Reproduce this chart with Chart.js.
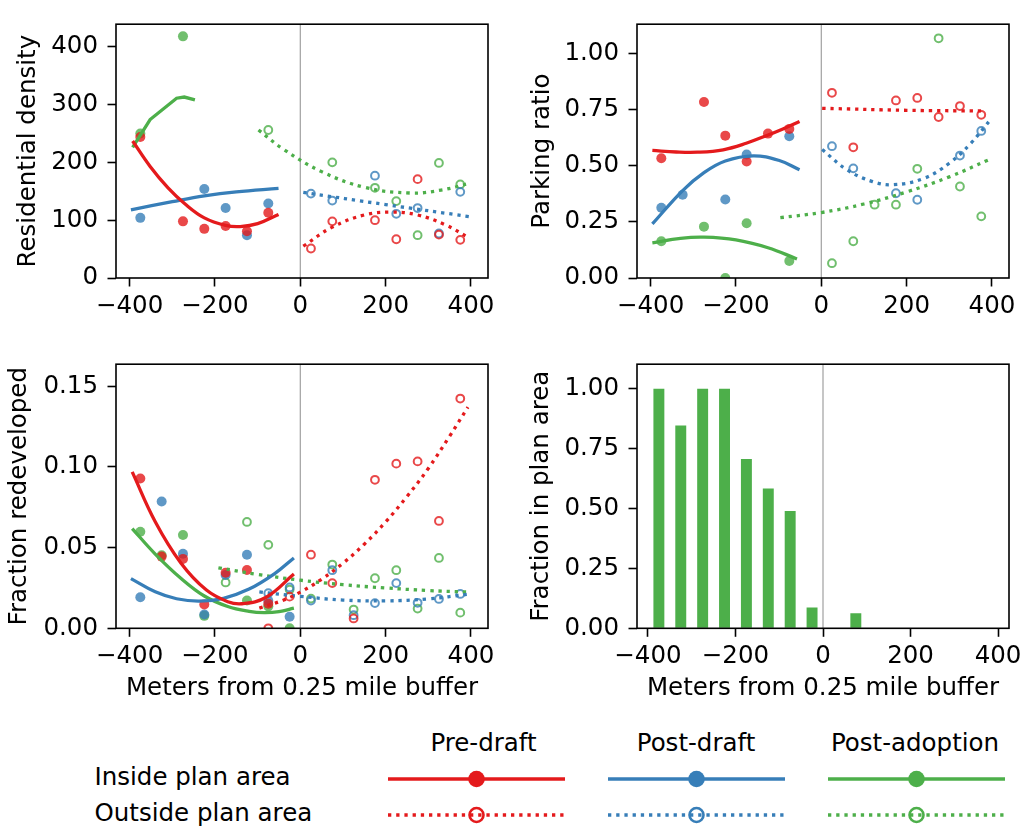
<!DOCTYPE html>
<html>
<head>
<meta charset="utf-8">
<script src="https://cdn.jsdelivr.net/npm/chart.js@4.4.1/dist/chart.umd.min.js"></script>
<style>
html, body { margin: 0; padding: 0; background: #fff; overflow: hidden; }
#fig { position: relative; width: 1024px; height: 832px; overflow: hidden; background: #fff;
       font-family: 'DejaVu Sans', sans-serif; color: #000; }
canvas { position: absolute; }
.lg { position: absolute; font-size: 24.5px; line-height: 1; white-space: nowrap; transform: translateY(-50%); }
.hd { transform: translate(-50%, -50%); }
</style>
</head>
<body>
<div id="fig">
  <canvas id="c1" width="510" height="330" style="left:0;top:0"></canvas>
  <canvas id="c2" width="530" height="330" style="left:505px;top:0"></canvas>
  <canvas id="c3" width="510" height="380" style="left:0;top:340px"></canvas>
  <canvas id="c4" width="530" height="380" style="left:505px;top:340px"></canvas>

  <div class="lg hd" style="left:483.5px;top:743px">Pre-draft</div>
  <div class="lg hd" style="left:696px;top:743px">Post-draft</div>
  <div class="lg hd" style="left:915px;top:743px">Post-adoption</div>
  <div class="lg" style="left:94.5px;top:777px">Inside plan area</div>
  <div class="lg" style="left:94.5px;top:813px">Outside plan area</div>
  <svg id="legend" width="1024" height="112" style="position:absolute;left:0;top:720px"></svg>
</div>

<script>
"use strict";

// bins (metres from the 0.25 mile buffer)
const binsIn = [-375, -325, -275, -225, -175, -125, -75, -25];
const binsOut = [-175, -125, -75, -25, 25, 75, 125, 175, 225, 275, 325, 375];
const xTicks = [-400, -200, 0, 200, 400];

// --- Residential density ---
const densTicks = [0, 100, 200, 300, 400];
const densPreIn   = [244, null, 98, 85, 90, 81, 113, null];
const densPostIn  = [104, null, null, 154, 121, 74, 129, null];
const densAdoptIn = [250, null, 418, null, null, null, null, null];
const densPreOut   = [null, null, null, null, 51, 98, null, 100, 67, 171, 75, 66];
const densPostOut  = [null, null, null, null, 146, 134, null, 177, 111, 121, 77, 149];
const densAdoptOut = [null, null, 256, null, null, 200, null, 156, 133, 74, 199, 162];
const densPreFitX = [-393, -352, -310, -270, -225, -175, -141, -100, -51];
const densPreFitY = [237, 193, 156, 128, 104, 91, 89, 94, 110];
const densPostFitX = [-397, -300, -225, -150, -51];
const densPostFitY = [118, 132, 142, 149, 155];
const densAdoptFitX = [-393, -352, -290, -272, -247];
const densAdoptFitY = [226, 274, 311, 313, 308];
const densPreOutFitX = [7, 75, 150, 212, 275, 340, 394];
const densPreOutFitY = [55, 88, 109, 114, 109, 92, 70];
const densPostOutFitX = [7, 200, 398];
const densPostOutFitY = [148, 127, 106];
const densAdoptOutFitX = [-98, -40, 50, 150, 257, 330, 398];
const densAdoptOutFitY = [256, 223, 184, 157, 147, 152, 164];

// --- Parking ratio ---
const parkTicks = [0, 0.25, 0.5, 0.75, 1.0];
const parkPreIn   = [0.534, null, 0.785, 0.635, 0.520, 0.644, 0.665, null];
const parkPostIn  = [0.313, 0.371, null, 0.350, 0.551, null, 0.632, null];
const parkAdoptIn = [0.164, null, 0.229, 0.0, 0.244, null, 0.076, null];
const parkPreOut   = [null, null, null, null, 0.826, 0.583, null, 0.792, 0.803, 0.718, 0.767, 0.728];
const parkPostOut  = [null, null, null, null, 0.588, 0.489, null, 0.378, 0.349, null, 0.546, 0.656];
const parkAdoptOut = [null, null, null, null, 0.066, 0.164, 0.327, 0.327, 0.487, 1.069, 0.408, 0.275];
const parkPreFitX = [-396, -340, -290, -230, -176, -126, -90, -51];
const parkPreFitY = [0.569, 0.562, 0.561, 0.572, 0.601, 0.637, 0.665, 0.698];
const parkPostFitX = [-396, -325, -275, -225, -160, -100, -51];
const parkPostFitY = [0.241, 0.390, 0.470, 0.522, 0.545, 0.525, 0.483];
const parkAdoptFitX = [-396, -330, -275, -200, -125, -57];
const parkAdoptFitY = [0.157, 0.177, 0.182, 0.170, 0.135, 0.085];
const parkPreOutFitX = [2, 200, 385];
const parkPreOutFitY = [0.757, 0.748, 0.745];
const parkPostOutFitX = [2, 60, 120, 169, 240, 300, 350, 400];
const parkPostOutFitY = [0.573, 0.483, 0.430, 0.416, 0.444, 0.512, 0.600, 0.714];
const parkAdoptOutFitX = [-96, 0, 100, 200, 300, 392];
const parkAdoptOutFitY = [0.269, 0.292, 0.330, 0.384, 0.451, 0.527];

// --- Fraction redeveloped ---
const redevTicks = [0, 0.05, 0.10, 0.15];
const redevPreIn   = [0.0928, 0.0444, 0.0430, 0.0148, 0.0344, 0.0361, 0.0152, null];
const redevPostIn  = [0.0192, 0.0785, 0.0462, 0.0085, 0.0330, 0.0456, 0.0171, 0.0071];
const redevAdoptIn = [0.0598, 0.0452, 0.0578, 0.0077, null, 0.0172, 0.0136, 0.0];
const redevPreOut   = [null, null, 0.0, 0.0196, 0.0456, 0.0280, 0.0061, 0.0920, 0.1020, 0.1034, 0.0665, 0.1423];
const redevPostOut  = [null, null, 0.0217, 0.0253, 0.0172, 0.0360, 0.0081, 0.0156, 0.0280, 0.0158, 0.0182, 0.0213];
const redevAdoptOut = [0.0284, 0.0659, 0.0517, 0.0240, 0.0184, 0.0395, 0.0116, 0.0310, 0.0360, 0.0122, 0.0436, 0.0097];
const redevPreFitX = [-394, -340, -280, -220, -170, -137, -80, -15];
const redevPreFitY = [0.0969, 0.066, 0.0405, 0.0237, 0.0165, 0.0152, 0.0192, 0.0336];
const redevPostFitX = [-397, -340, -290, -237, -180, -120, -60, -15];
const redevPostFitY = [0.0308, 0.0226, 0.0183, 0.0168, 0.0186, 0.0243, 0.0339, 0.0436];
const redevAdoptFitX = [-394, -340, -280, -225, -170, -120, -85, -50, -15];
const redevAdoptFitY = [0.0618, 0.046, 0.031, 0.020, 0.0135, 0.0105, 0.0097, 0.0103, 0.0125];
const redevPreOutFitX = [-96, -40, 0, 50, 100, 150, 200, 250, 300, 350, 393];
const redevPreOutFitY = [0.0125, 0.0174, 0.0224, 0.0304, 0.0403, 0.0521, 0.0659, 0.0816, 0.099, 0.119, 0.137];
const redevPostOutFitX = [-96, 0, 100, 200, 300, 393];
const redevPostOutFitY = [0.0225, 0.0198, 0.0175, 0.0170, 0.0182, 0.0211];
const redevAdoptOutFitX = [-192, -100, 0, 100, 200, 300, 393];
const redevAdoptOutFitY = [0.0375, 0.0334, 0.0298, 0.0270, 0.0250, 0.0234, 0.0225];

// --- Fraction in plan area ---
const planTicks = [0, 0.25, 0.5, 0.75, 1.0];
const planBins = [-375, -325, -275, -225, -175, -125, -75, -25, 25, 75, 125, 175, 225, 275, 325, 375];
const planFrac = [1.0, 0.846, 1.0, 1.0, 0.706, 0.583, 0.489, 0.087, 0, 0.063, 0, 0, 0, 0, 0, 0];

const RED = '#e41a1c', BLUE = '#377eb8', GREEN = '#4daf4a';
const FILL = {};
FILL[RED] = 'rgba(228,26,28,0.8)';
FILL[BLUE] = 'rgba(55,126,184,0.8)';
FILL[GREEN] = 'rgba(77,175,74,0.8)';

Chart.defaults.font.family = "'DejaVu Sans', sans-serif";
Chart.defaults.font.size = 24.5;
Chart.defaults.color = '#000';

function pts(xs, ys) {
    return xs.map((x, i) => ({ x: x, y: ys[i] })).filter(p => p.y !== null);
}

function dots(ys, color) {
    return { data: pts(binsIn, ys), showLine: false, clip: 0,
        pointRadius: 5, pointBorderWidth: 0, pointBorderColor: 'rgba(0,0,0,0)',
        pointBackgroundColor: FILL[color] };
}

function rings(ys, color) {
    return { data: pts(binsOut, ys), showLine: false, clip: 0,
        pointRadius: 3.9, pointBorderWidth: 2, pointBorderColor: FILL[color],
        pointBackgroundColor: 'rgba(0,0,0,0)' };
}

function fit(xs, ys, color, dotted, tension) {
    return { data: pts(xs, ys), showLine: true, borderColor: color, borderWidth: 3.3,
        borderDash: dotted ? [3.3, 4.9] : [], borderCapStyle: 'butt',
        tension: tension === undefined ? 0.4 : tension, pointRadius: 0 };
}

const fmtX = v => v < 0 ? '\u2212' + Math.abs(v) : String(v);

// black frame round the plot area and grey line at x = 0
const framePlugin = {
    id: 'frame',
    beforeDatasetsDraw(chart) {
        const { ctx, chartArea: a } = chart;
        const x0 = chart.scales.x.getPixelForValue(0);
        ctx.save();
        ctx.strokeStyle = '#a0a0a0';
        ctx.lineWidth = 1.2;
        ctx.beginPath();
        ctx.moveTo(x0, a.top);
        ctx.lineTo(x0, a.bottom);
        ctx.stroke();
        ctx.restore();
    },
    afterDatasetsDraw(chart) {
        const { ctx, chartArea: a } = chart;
        ctx.save();
        ctx.strokeStyle = '#000';
        ctx.lineWidth = 1.6;
        ctx.strokeRect(a.left, a.top, a.right - a.left, a.bottom - a.top);
        ctx.restore();
    }
};

function options(p) {
    return {
        responsive: false, animation: false, events: [],
        layout: { padding: { left: 0, top: p.top, right: p.right, bottom: 0 } },
        plugins: { legend: { display: false }, tooltip: { enabled: false } },
        scales: {
            x: {
                type: 'linear', min: p.xMin, max: p.xMax, offset: false,
                afterBuildTicks: s => { s.ticks = xTicks.map(v => ({ value: v })); },
                afterFit: s => { s.height = p.xH; },
                grid: { drawOnChartArea: false, drawTicks: true, tickLength: 8.5, tickWidth: 1.6,
                        tickColor: '#000', offset: false },
                border: { display: false },
                ticks: { padding: 5.3, maxRotation: 0, autoSkip: false, callback: fmtX },
                title: { display: !!p.xTitle, text: 'Meters from 0.25 mile buffer',
                         padding: { top: 0, bottom: 16.3 } }
            },
            y: {
                type: 'linear', min: 0, max: p.yMax,
                afterBuildTicks: s => { s.ticks = p.yTicks.map(v => ({ value: v })); },
                afterFit: s => { s.width = p.yW; },
                grid: { drawOnChartArea: false, drawTicks: true, tickLength: 8.5, tickWidth: 1.6,
                        tickColor: '#000' },
                border: { display: false },
                ticks: { padding: 9.5, autoSkip: false, callback: p.fmtY },
                title: { display: true, text: p.yTitle, padding: { top: p.yTitlePad, bottom: 0 } }
            }
        }
    };
}

// Residential density
new Chart(document.getElementById('c1'), {
    type: 'scatter',
    data: { datasets: [
        fit(densPreFitX, densPreFitY, RED, false),
        fit(densPostFitX, densPostFitY, BLUE, false),
        fit(densAdoptFitX, densAdoptFitY, GREEN, false, 0),
        fit(densPreOutFitX, densPreOutFitY, RED, true),
        fit(densPostOutFitX, densPostOutFitY, BLUE, true),
        fit(densAdoptOutFitX, densAdoptOutFitY, GREEN, true),
        dots(densPreIn, RED), dots(densPostIn, BLUE), dots(densAdoptIn, GREEN),
        rings(densPreOut, RED), rings(densPostOut, BLUE), rings(densAdoptOut, GREEN)
    ] },
    options: options({ top: 9, right: 22, xMin: -432, xMax: 440, xH: 52, yW: 116, yMax: 439,
        yTicks: densTicks, fmtY: v => String(v), yTitle: 'Residential density', yTitlePad: 14 }),
    plugins: [framePlugin]
});

// Parking ratio
new Chart(document.getElementById('c2'), {
    type: 'scatter',
    data: { datasets: [
        fit(parkPreFitX, parkPreFitY, RED, false),
        fit(parkPostFitX, parkPostFitY, BLUE, false),
        fit(parkAdoptFitX, parkAdoptFitY, GREEN, false),
        fit(parkPreOutFitX, parkPreOutFitY, RED, true),
        fit(parkPostOutFitX, parkPostOutFitY, BLUE, true),
        fit(parkAdoptOutFitX, parkAdoptOutFitY, GREEN, true),
        dots(parkPreIn, RED), dots(parkPostIn, BLUE), dots(parkAdoptIn, GREEN),
        rings(parkPreOut, RED), rings(parkPostOut, BLUE), rings(parkAdoptOut, GREEN)
    ] },
    options: options({ top: 9, right: 26, xMin: -432, xMax: 440, xH: 52, yW: 132, yMax: 1.132,
        yTicks: parkTicks, fmtY: v => v.toFixed(2), yTitle: 'Parking ratio', yTitlePad: 23 }),
    plugins: [framePlugin]
});

// Fraction redeveloped
new Chart(document.getElementById('c3'), {
    type: 'scatter',
    data: { datasets: [
        fit(redevPreFitX, redevPreFitY, RED, false),
        fit(redevPostFitX, redevPostFitY, BLUE, false),
        fit(redevAdoptFitX, redevAdoptFitY, GREEN, false),
        fit(redevPreOutFitX, redevPreOutFitY, RED, true),
        fit(redevPostOutFitX, redevPostOutFitY, BLUE, true),
        fit(redevAdoptOutFitX, redevAdoptOutFitY, GREEN, true),
        dots(redevPreIn, RED), dots(redevPostIn, BLUE), dots(redevAdoptIn, GREEN),
        rings(redevPreOut, RED), rings(redevPostOut, BLUE), rings(redevAdoptOut, GREEN)
    ] },
    options: options({ top: 19, right: 22, xMin: -432, xMax: 440, xH: 91.7, yW: 116, yMax: 0.1636,
        yTicks: redevTicks, fmtY: v => v.toFixed(2), yTitle: 'Fraction redeveloped', yTitlePad: 5,
        xTitle: true }),
    plugins: [framePlugin]
});

// Fraction in plan area
new Chart(document.getElementById('c4'), {
    type: 'bar',
    data: { datasets: [{
        data: pts(planBins, planFrac), backgroundColor: GREEN, borderWidth: 0,
        barPercentage: 0.5, categoryPercentage: 1.0
    }] },
    options: options({ top: 19, right: 26, xMin: -425, xMax: 425, xH: 91.7, yW: 132, yMax: 1.102,
        yTicks: planTicks, fmtY: v => v.toFixed(2), yTitle: 'Fraction in plan area', yTitlePad: 22,
        xTitle: true }),
    plugins: [framePlugin]
});

// legend handles
const svg = document.getElementById('legend');
const NS = 'http://www.w3.org/2000/svg';
function el(name, attrs) {
    const e = document.createElementNS(NS, name);
    for (const k in attrs) e.setAttribute(k, attrs[k]);
    svg.appendChild(e);
}
const handleX = [[388, 565], [608, 785], [828, 1005]];
[RED, BLUE, GREEN].forEach((c, i) => {
    const [a, b] = handleX[i];
    const m = (a + b) / 2;
    el('line', { x1: a, y1: 59, x2: b, y2: 59, stroke: c, 'stroke-width': 3.3 });
    el('circle', { cx: m, cy: 59, r: 8.3, fill: c });
    el('line', { x1: a, y1: 95, x2: b, y2: 95, stroke: c, 'stroke-width': 3.3, 'stroke-dasharray': '3.3 4.9' });
    el('circle', { cx: m, cy: 95, r: 7, fill: 'none', stroke: c, 'stroke-width': 2.6 });
});
</script>
</body>
</html>
